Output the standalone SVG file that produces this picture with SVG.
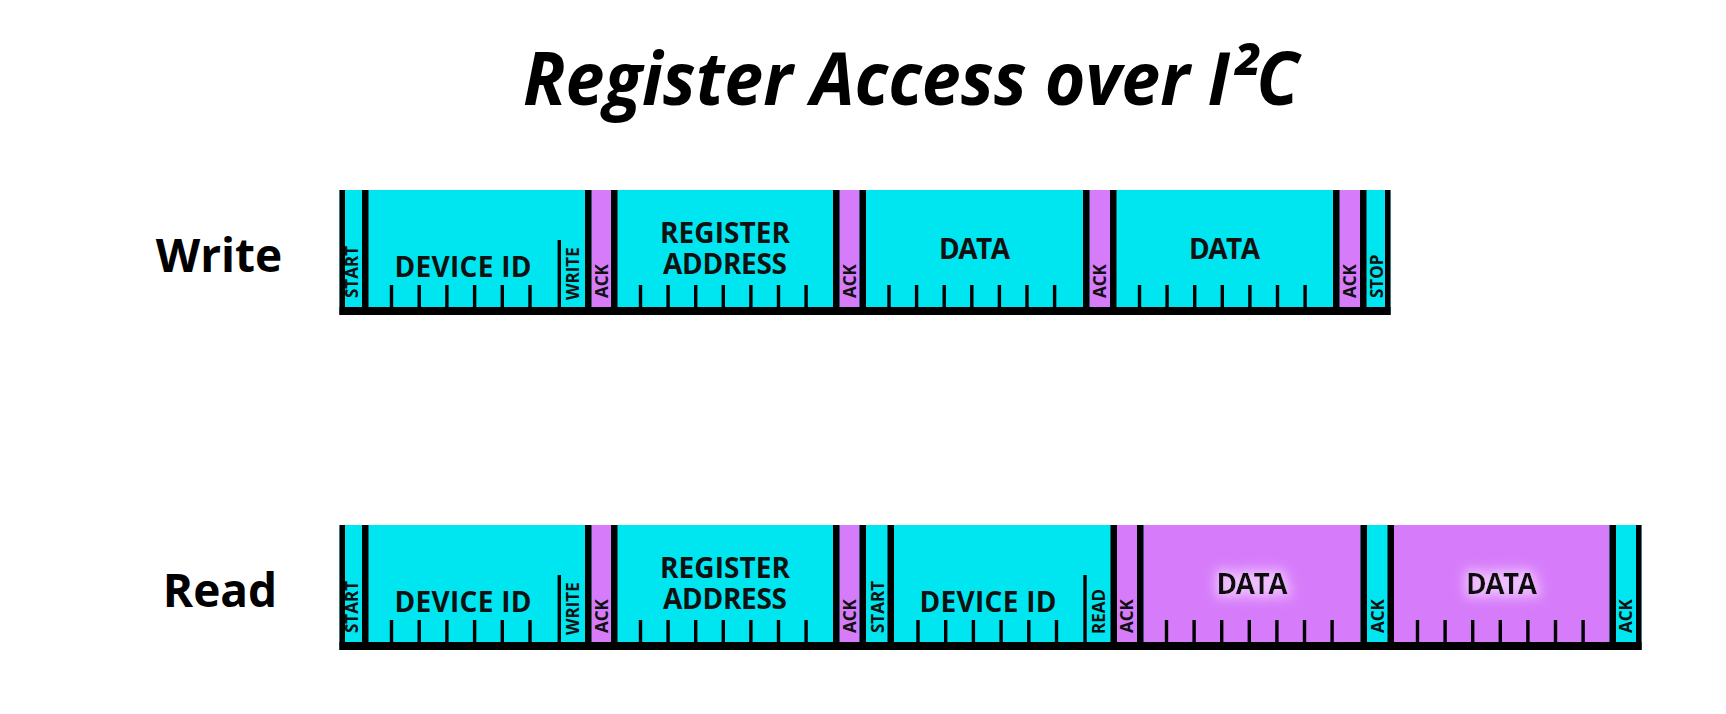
<svg xmlns="http://www.w3.org/2000/svg" width="1726" height="714" viewBox="0 0 1726 714">
<defs>
<style>
.cy{fill:#00E6F0}
.pu{fill:#D67CFA}
.ln{fill:#000}
.tk{fill:#000}
.title{font-family:"Open Sans","Noto Sans",sans-serif;font-weight:700;font-style:italic;font-size:73px;fill:#000}
.row{font-family:"Open Sans","Noto Sans",sans-serif;font-weight:700;font-size:46px;fill:#000;text-anchor:middle}
.lb{font-family:"Open Sans","Noto Sans",sans-serif;font-weight:700;font-size:28px;fill:#111;text-anchor:middle}
.sm{font-family:"Open Sans","Noto Sans",sans-serif;font-weight:700;font-size:17px;fill:#111}
</style>
<filter id="glow" x="-30%" y="-60%" width="160%" height="220%">
<feMorphology in="SourceAlpha" operator="dilate" radius="3" result="d"/>
<feGaussianBlur in="d" stdDeviation="6" result="b"/>
<feFlood flood-color="#F0C2FF"/>
<feComposite in2="b" operator="in" result="g"/>
<feMerge><feMergeNode in="g"/><feMergeNode in="SourceGraphic"/></feMerge>
</filter>
</defs>
<rect width="1726" height="714" fill="#fff"/>

<text id="title" class="title" x="523" y="105" textLength="776" lengthAdjust="spacingAndGlyphs">Register Access over I²C</text>
<text id="label-write" class="row" x="219" y="272">Write</text>
<text id="label-read" class="row" x="220" y="607">Read</text>

<!-- WRITE ROW -->
<g id="write-row">
<g id="w-fields">
<rect class="cy" x="339.5" y="190" width="1051" height="125"/>
<rect class="pu" x="591.5" y="190" width="19.5" height="125"/>
<rect class="pu" x="839.5" y="190" width="20" height="125"/>
<rect class="pu" x="1089.5" y="190" width="20.5" height="125"/>
<rect class="pu" x="1339.5" y="190" width="20.5" height="125"/>
</g>
<g id="w-dividers">
<rect class="ln" x="339.5" y="190" width="5.5" height="125"/>
<rect class="ln" x="362" y="190" width="6.5" height="125"/>
<rect class="ln" x="585" y="190" width="6.5" height="125"/>
<rect class="ln" x="611" y="190" width="6.5" height="125"/>
<rect class="ln" x="833" y="190" width="6.5" height="125"/>
<rect class="ln" x="859.5" y="190" width="6.5" height="125"/>
<rect class="ln" x="1083" y="190" width="6.5" height="125"/>
<rect class="ln" x="1110" y="190" width="6.5" height="125"/>
<rect class="ln" x="1333" y="190" width="6.5" height="125"/>
<rect class="ln" x="1360" y="190" width="6.5" height="125"/>
<rect class="ln" x="1385" y="190" width="5.5" height="125"/>
<rect class="ln" x="339.5" y="307" width="1051" height="8"/>
<rect class="tk" x="557.6" y="240" width="3.4" height="70"/>
</g>
<g id="w-ticks">
<rect class="tk" x="389.8" y="285" width="3.4" height="25"/>
<rect class="tk" x="417.5" y="285" width="3.4" height="25"/>
<rect class="tk" x="445.2" y="285" width="3.4" height="25"/>
<rect class="tk" x="472.9" y="285" width="3.4" height="25"/>
<rect class="tk" x="500.6" y="285" width="3.4" height="25"/>
<rect class="tk" x="528.3" y="285" width="3.4" height="25"/>
<rect class="tk" x="638.8" y="285" width="3.4" height="25"/>
<rect class="tk" x="666.4" y="285" width="3.4" height="25"/>
<rect class="tk" x="694.0" y="285" width="3.4" height="25"/>
<rect class="tk" x="721.6" y="285" width="3.4" height="25"/>
<rect class="tk" x="749.2" y="285" width="3.4" height="25"/>
<rect class="tk" x="776.8" y="285" width="3.4" height="25"/>
<rect class="tk" x="804.4" y="285" width="3.4" height="25"/>
<rect class="tk" x="887.3" y="285" width="3.4" height="25"/>
<rect class="tk" x="914.9" y="285" width="3.4" height="25"/>
<rect class="tk" x="942.5" y="285" width="3.4" height="25"/>
<rect class="tk" x="970.1" y="285" width="3.4" height="25"/>
<rect class="tk" x="997.7" y="285" width="3.4" height="25"/>
<rect class="tk" x="1025.3" y="285" width="3.4" height="25"/>
<rect class="tk" x="1052.9" y="285" width="3.4" height="25"/>
<rect class="tk" x="1137.8" y="285" width="3.4" height="25"/>
<rect class="tk" x="1165.4" y="285" width="3.4" height="25"/>
<rect class="tk" x="1193.0" y="285" width="3.4" height="25"/>
<rect class="tk" x="1220.6" y="285" width="3.4" height="25"/>
<rect class="tk" x="1248.2" y="285" width="3.4" height="25"/>
<rect class="tk" x="1275.8" y="285" width="3.4" height="25"/>
<rect class="tk" x="1303.4" y="285" width="3.4" height="25"/>
</g>
<g id="w-start"><text class="sm" transform="translate(357.5,298) rotate(-90)">START</text></g>
<g id="w-devid"><text class="lb" x="463" y="276.5" textLength="137">DEVICE ID</text></g>
<g id="w-write"><text class="sm" transform="translate(578.5,300) rotate(-90)">WRITE</text></g>
<g id="w-ack1"><text class="sm" transform="translate(608,298) rotate(-90)">ACK</text></g>
<g id="w-reg"><text class="lb" x="725" y="243" textLength="130">REGISTER</text><text class="lb" x="725" y="274" textLength="124">ADDRESS</text></g>
<g id="w-ack2"><text class="sm" transform="translate(855.5,298) rotate(-90)">ACK</text></g>
<g id="w-data1"><text class="lb" x="974.5" y="259" textLength="71">DATA</text></g>
<g id="w-ack3"><text class="sm" transform="translate(1106,298) rotate(-90)">ACK</text></g>
<g id="w-data2"><text class="lb" x="1224.5" y="259" textLength="71">DATA</text></g>
<g id="w-ack4"><text class="sm" transform="translate(1356,298) rotate(-90)">ACK</text></g>
<g id="w-stop"><text class="sm" transform="translate(1382.5,298) rotate(-90)">STOP</text></g>
</g>

<!-- READ ROW -->
<g id="read-row">
<g id="r-fields">
<rect class="cy" x="339.5" y="525" width="1302" height="125"/>
<rect class="pu" x="591.5" y="525" width="19.5" height="125"/>
<rect class="pu" x="839.5" y="525" width="20" height="125"/>
<rect class="pu" x="1117" y="525" width="20" height="125"/>
<rect class="pu" x="1143.5" y="525" width="217" height="125"/>
<rect class="pu" x="1394" y="525" width="215.5" height="125"/>
</g>
<g id="r-dividers">
<rect class="ln" x="339.5" y="525" width="5.5" height="125"/>
<rect class="ln" x="362" y="525" width="6.5" height="125"/>
<rect class="ln" x="585" y="525" width="6.5" height="125"/>
<rect class="ln" x="611" y="525" width="6.5" height="125"/>
<rect class="ln" x="833" y="525" width="6.5" height="125"/>
<rect class="ln" x="859.5" y="525" width="6.5" height="125"/>
<rect class="ln" x="887.5" y="525" width="6.5" height="125"/>
<rect class="ln" x="1110.5" y="525" width="6.5" height="125"/>
<rect class="ln" x="1137" y="525" width="6.5" height="125"/>
<rect class="ln" x="1360.5" y="525" width="6.5" height="125"/>
<rect class="ln" x="1387.5" y="525" width="6.5" height="125"/>
<rect class="ln" x="1609.5" y="525" width="6.5" height="125"/>
<rect class="ln" x="1636" y="525" width="5.5" height="125"/>
<rect class="ln" x="339.5" y="642" width="1302" height="8"/>
<rect class="tk" x="557.6" y="575" width="3.4" height="70"/>
<rect class="tk" x="1083.3" y="575" width="3.4" height="70"/>
</g>
<g id="r-ticks">
<rect class="tk" x="389.8" y="620" width="3.4" height="25"/>
<rect class="tk" x="417.5" y="620" width="3.4" height="25"/>
<rect class="tk" x="445.2" y="620" width="3.4" height="25"/>
<rect class="tk" x="472.9" y="620" width="3.4" height="25"/>
<rect class="tk" x="500.6" y="620" width="3.4" height="25"/>
<rect class="tk" x="528.3" y="620" width="3.4" height="25"/>
<rect class="tk" x="638.8" y="620" width="3.4" height="25"/>
<rect class="tk" x="666.4" y="620" width="3.4" height="25"/>
<rect class="tk" x="694.0" y="620" width="3.4" height="25"/>
<rect class="tk" x="721.6" y="620" width="3.4" height="25"/>
<rect class="tk" x="749.2" y="620" width="3.4" height="25"/>
<rect class="tk" x="776.8" y="620" width="3.4" height="25"/>
<rect class="tk" x="804.4" y="620" width="3.4" height="25"/>
<rect class="tk" x="916.3" y="620" width="3.4" height="25"/>
<rect class="tk" x="944.0" y="620" width="3.4" height="25"/>
<rect class="tk" x="971.7" y="620" width="3.4" height="25"/>
<rect class="tk" x="999.4" y="620" width="3.4" height="25"/>
<rect class="tk" x="1027.1" y="620" width="3.4" height="25"/>
<rect class="tk" x="1054.8" y="620" width="3.4" height="25"/>
<rect class="tk" x="1164.8" y="620" width="3.4" height="25"/>
<rect class="tk" x="1192.4" y="620" width="3.4" height="25"/>
<rect class="tk" x="1220.0" y="620" width="3.4" height="25"/>
<rect class="tk" x="1247.6" y="620" width="3.4" height="25"/>
<rect class="tk" x="1275.2" y="620" width="3.4" height="25"/>
<rect class="tk" x="1302.8" y="620" width="3.4" height="25"/>
<rect class="tk" x="1330.4" y="620" width="3.4" height="25"/>
<rect class="tk" x="1415.8" y="620" width="3.4" height="25"/>
<rect class="tk" x="1443.4" y="620" width="3.4" height="25"/>
<rect class="tk" x="1471.0" y="620" width="3.4" height="25"/>
<rect class="tk" x="1498.6" y="620" width="3.4" height="25"/>
<rect class="tk" x="1526.2" y="620" width="3.4" height="25"/>
<rect class="tk" x="1553.8" y="620" width="3.4" height="25"/>
<rect class="tk" x="1581.4" y="620" width="3.4" height="25"/>
</g>
<g id="r-start1"><text class="sm" transform="translate(357.5,633) rotate(-90)">START</text></g>
<g id="r-devid1"><text class="lb" x="463" y="611.5" textLength="137">DEVICE ID</text></g>
<g id="r-write"><text class="sm" transform="translate(578.5,635) rotate(-90)">WRITE</text></g>
<g id="r-ack1"><text class="sm" transform="translate(608,633) rotate(-90)">ACK</text></g>
<g id="r-reg"><text class="lb" x="725" y="578" textLength="130">REGISTER</text><text class="lb" x="725" y="609" textLength="124">ADDRESS</text></g>
<g id="r-ack2"><text class="sm" transform="translate(855.5,633) rotate(-90)">ACK</text></g>
<g id="r-start2"><text class="sm" transform="translate(883.5,633) rotate(-90)">START</text></g>
<g id="r-devid2"><text class="lb" x="988" y="611.5" textLength="137">DEVICE ID</text></g>
<g id="r-read"><text class="sm" transform="translate(1105,634) rotate(-90)">READ</text></g>
<g id="r-ack3"><text class="sm" transform="translate(1133,633) rotate(-90)">ACK</text></g>
<g id="r-data1"><text class="lb" x="1252" y="594" textLength="71" filter="url(#glow)">DATA</text></g>
<g id="r-ack4"><text class="sm" transform="translate(1383.5,633) rotate(-90)">ACK</text></g>
<g id="r-data2"><text class="lb" x="1501.5" y="594" textLength="71" filter="url(#glow)">DATA</text></g>
<g id="r-ack5"><text class="sm" transform="translate(1632,633) rotate(-90)">ACK</text></g>
</g>
<g id="connectors"/>
</svg>
